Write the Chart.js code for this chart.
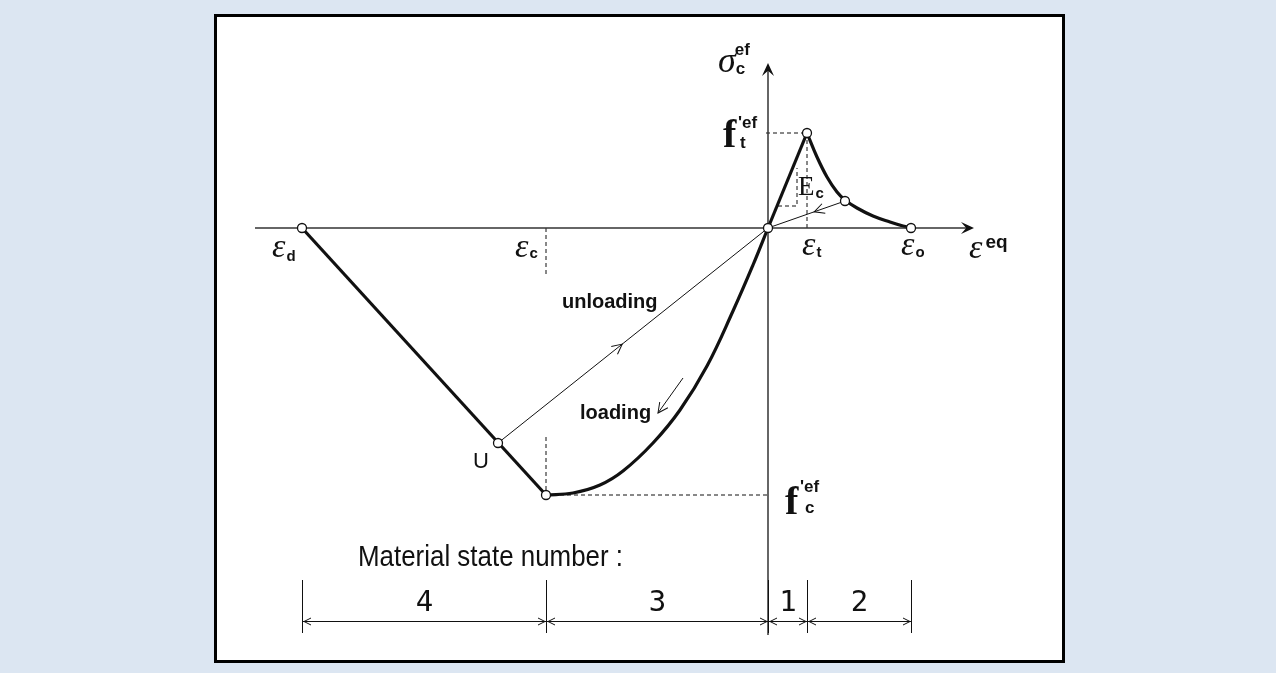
<!DOCTYPE html>
<html>
<head>
<meta charset="utf-8">
<title>Concrete constitutive law</title>
<script src="https://cdn.jsdelivr.net/npm/chart.js@4.4.1/dist/chart.umd.min.js"></script>
<style>
  html, body { margin: 0; padding: 0; background: #dce6f2; }
  #frame {
    position: absolute; left: 214px; top: 14px; width: 851px; height: 649px;
    box-sizing: border-box; border: 3px solid #000; background: #fff;
  }
  #wrap { position: absolute; left: 0; top: 0; width: 1276px; height: 673px; }
</style>
</head>
<body>
<div id="frame"></div>
<div id="wrap"><canvas id="law" width="1276" height="673"></canvas></div>
<script>
// strain (x1e-4) / effective stress values of the law
const epsD = -46.6, epsC = -22.2, epsT = 3.9, epsO = 14.3;
const fcEf = -26.7, ftEf = 9.5;
const unloadPt = [-27.0, -21.5];   // U
const softPt = [7.7, 2.7];

// marked points (open circles)
const keyEps = [epsD, unloadPt[0], epsC, 0, epsT, softPt[0], epsO];
const keySig = [0, unloadPt[1], fcEf, 0, ftEf, softPt[1], 0];

// compression branch, from the peak f'c back to the origin
const compEps = [-22.2, -19.5, -16.8, -14.5, -11.5, -8.8, -6.1, -3.5, -1.5, 0];
const compSig = [-26.7, -26.5, -25.7, -24.3, -21.5, -18.2, -13.8, -8.3, -3.7, 0];

// tension softening branch, from f't to eps_o
const softEps = [3.9, 4.9, 5.9, 6.9, 7.7, 8.9, 10.5, 12.2, 13.5, 14.3];
const softSig = [9.5, 7.1, 5.1, 3.6, 2.8, 2.0, 1.2, 0.6, 0.2, 0];

// axis extents
const xAxisEps = [-51.3, 20.4];
const yAxisSig = [-40.7, 16.3];

// Ec construction triangle and the loading direction arrow
const ecEps = [1.0, 2.9, 2.9];
const ecSig = [2.2, 2.2, 6.0];
const loadArrowEps = [-8.5, -11.0];
const loadArrowSig = [-15.0, -18.5];

// material state zones
const stateBounds = [epsD, epsC, 0, epsT, epsO];
const stateNumbers = ['4', '3', '1', '2'];

const xy = (xs, ys) => xs.map((v, i) => ({ x: v, y: ys[i] }));

const INK = '#111';
const line = (data, width, extra) => Object.assign({
  data: data, showLine: true, borderColor: INK, borderWidth: width,
  pointRadius: 0, fill: false, order: 1
}, extra || {});
const dashed = data => line(data, 1, { borderDash: [4, 3] });

function openHead(ctx, tx, ty, ang, len, half) {
  ctx.save();
  ctx.translate(tx, ty);
  ctx.rotate(ang);
  ctx.beginPath();
  ctx.moveTo(-len, -half);
  ctx.lineTo(0, 0);
  ctx.lineTo(-len, half);
  ctx.stroke();
  ctx.restore();
}

function solidHead(ctx, tx, ty, ang, len, half) {
  ctx.save();
  ctx.translate(tx, ty);
  ctx.rotate(ang);
  ctx.beginPath();
  ctx.moveTo(0, 0);
  ctx.lineTo(-len, -half);
  ctx.lineTo(-len * 0.6, 0);
  ctx.lineTo(-len, half);
  ctx.closePath();
  ctx.fill();
  ctx.restore();
}

function put(ctx, s, px, py, font, align) {
  ctx.font = font;
  ctx.textAlign = align || 'left';
  ctx.fillText(s, px, py);
  return ctx.measureText(s).width;
}

// text squeezed to a given width (narrow face)
function putFit(ctx, s, px, py, font, width) {
  ctx.save();
  ctx.font = font;
  ctx.textAlign = 'left';
  const w = ctx.measureText(s).width;
  ctx.translate(px, py);
  ctx.scale(width / w, 1);
  ctx.fillText(s, 0, 0);
  ctx.restore();
}

const EPS_FONT = 'italic 34px "Liberation Serif"';
const SUB_FONT = 'bold 15px "Liberation Sans"';
const SUP_FONT = 'bold 17px "Liberation Sans"';
const F_FONT = 'bold 40px "Liberation Serif"';

function epsLabel(ctx, sub, left, base, subDy) {
  const w = put(ctx, 'ε', left, base, EPS_FONT);
  put(ctx, sub, left + w + 1, base + subDy, SUB_FONT);
}

const annotate = {
  id: 'annotate',
  afterDatasetsDraw(chart) {
    const { ctx, scales: { x, y } } = chart;
    const X = v => x.getPixelForValue(v);
    const Y = v => y.getPixelForValue(v);
    const ox = X(0), oy = Y(0);

    ctx.save();
    ctx.fillStyle = INK;
    ctx.strokeStyle = INK;
    ctx.lineWidth = 1;
    ctx.textBaseline = 'alphabetic';

    // axis arrow heads
    solidHead(ctx, X(xAxisEps[1]) + 2, oy, 0, 13, 6);
    solidHead(ctx, ox, Y(yAxisSig[1]) - 2, -Math.PI / 2, 13, 6);

    // unloading direction arrows
    const ux = X(unloadPt[0]), uy = Y(unloadPt[1]);
    openHead(ctx, ux + (ox - ux) * 0.46, uy + (oy - uy) * 0.46, Math.atan2(oy - uy, ox - ux), 10, 5);
    const sx = X(softPt[0]), sy = Y(softPt[1]);
    openHead(ctx, sx + (ox - sx) * 0.4, sy + (oy - sy) * 0.4, Math.atan2(oy - sy, ox - sx), 10, 5);
    // loading direction arrow
    const lx0 = X(loadArrowEps[0]), ly0 = Y(loadArrowSig[0]);
    const lx1 = X(loadArrowEps[1]), ly1 = Y(loadArrowSig[1]);
    openHead(ctx, lx1, ly1, Math.atan2(ly1 - ly0, lx1 - lx0), 10, 5);

    // strain labels on the axis
    epsLabel(ctx, 'd', X(epsD) - 30, oy + 29, 4);
    epsLabel(ctx, 'c', X(epsC) - 31, oy + 29, 1);
    epsLabel(ctx, 't', X(epsT) - 5, oy + 27, 2);
    epsLabel(ctx, 'o', X(epsO) - 10, oy + 27, 2);
    const we = put(ctx, 'ε', X(xAxisEps[1]) - 3, oy + 30, EPS_FONT);
    put(ctx, 'eq', X(xAxisEps[1]) + we, oy + 20, 'bold 19px "Liberation Sans"');

    // stress axis title
    const ws = put(ctx, 'σ', ox - 50, 72, 'italic 36px "Liberation Serif"');
    put(ctx, 'ef', ox - 51 + ws, 55, SUP_FONT);
    put(ctx, 'c', ox - 50 + ws, 74, SUP_FONT);

    // tensile strength
    put(ctx, 'f', ox - 45, Y(ftEf) + 14, F_FONT);
    put(ctx, '\'ef', ox - 30, Y(ftEf) - 5, SUP_FONT);
    put(ctx, 't', ox - 28, Y(ftEf) + 15, SUP_FONT);

    // compressive strength
    put(ctx, 'f', ox + 17, Y(fcEf) + 19, F_FONT);
    put(ctx, '\'ef', ox + 32, Y(fcEf) - 3, SUP_FONT);
    put(ctx, 'c', ox + 37, Y(fcEf) + 18, SUP_FONT);

    // initial modulus
    const wE = put(ctx, 'E', ox + 30, oy - 33, '27px "Liberation Serif"');
    put(ctx, 'c', ox + 31 + wE, oy - 30, SUB_FONT);

    put(ctx, 'U', ux - 25, uy + 25, '22px "Liberation Sans"');
    put(ctx, 'unloading', 562, 308, 'bold 20px "Liberation Sans"');
    put(ctx, 'loading', 580, 419, 'bold 20px "Liberation Sans"');

    // material state zones
    putFit(ctx, 'Material state number :', 358, 566, '30px "Liberation Sans"', 265);
    const dimY = 621;
    stateBounds.forEach(b => {
      ctx.beginPath();
      ctx.moveTo(X(b) + 0.5, 580);
      ctx.lineTo(X(b) + 0.5, 633);
      ctx.stroke();
    });
    for (let i = 0; i < stateNumbers.length; i++) {
      const a = X(stateBounds[i]) + 1, b = X(stateBounds[i + 1]);
      ctx.beginPath();
      ctx.moveTo(a, dimY + 0.5);
      ctx.lineTo(b, dimY + 0.5);
      ctx.stroke();
      openHead(ctx, a + 1, dimY + 0.5, Math.PI, 7, 3.5);
      openHead(ctx, b - 1, dimY + 0.5, 0, 7, 3.5);
      put(ctx, stateNumbers[i], (a + b) / 2, 611, '29px "DejaVu Sans Mono"', 'center');
    }
    ctx.restore();
  }
};

new Chart(document.getElementById('law').getContext('2d'), {
  type: 'scatter',
  data: {
    datasets: [
      line(xy(xAxisEps, [0, 0]), 1.5, { borderColor: '#333' }),
      line(xy([0, 0], yAxisSig), 1.5, { borderColor: '#333' }),
      line(xy([epsD, epsC], [0, fcEf]), 3.2),
      line(xy(compEps, compSig), 3.2, { tension: 0.4 }),
      line(xy([0, epsT], [0, ftEf]), 3.2),
      line(xy(softEps, softSig), 3.2, { tension: 0.4 }),
      line(xy([unloadPt[0], 0], [unloadPt[1], 0]), 1),
      line(xy([softPt[0], 0], [softPt[1], 0]), 1),
      line(xy(loadArrowEps, loadArrowSig), 1),
      dashed(xy([epsC, epsC], [0, -4.9])),
      dashed(xy([epsC, epsC], [-20.9, fcEf])),
      dashed(xy([epsC, 0.2], [fcEf, fcEf])),
      dashed(xy([-0.2, epsT], [ftEf, ftEf])),
      dashed(xy([epsT, epsT], [ftEf, 0])),
      dashed(xy(ecEps, ecSig)),
      {
        data: xy(keyEps, keySig), showLine: false, order: 0,
        pointRadius: 4.5, pointBackgroundColor: '#fff',
        pointBorderColor: INK, pointBorderWidth: 1.3
      }
    ]
  },
  options: {
    responsive: false,
    animation: false,
    events: [],
    layout: { padding: 0, autoPadding: false },
    plugins: { legend: { display: false }, tooltip: { enabled: false } },
    scales: {
      x: { type: 'linear', display: false, min: -76.8, max: 50.8 },
      y: { type: 'linear', display: false, min: -44.5, max: 22.8 }
    }
  },
  plugins: [annotate]
});
</script>
</body>
</html>
